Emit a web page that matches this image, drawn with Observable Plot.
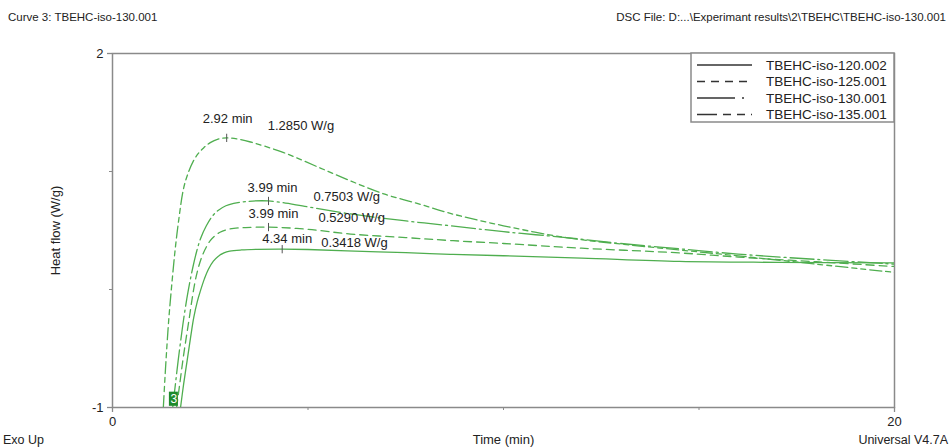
<!DOCTYPE html>
<html><head><meta charset="utf-8">
<script src="https://cdn.jsdelivr.net/npm/d3@7"></script>
<script src="https://cdn.jsdelivr.net/npm/@observablehq/plot@0.6"></script>
<style>
body{margin:0;background:#fff;}
svg{font-family:"Liberation Sans",Arial,sans-serif;}
</style>
</head><body><div id="chart"></div>
<script>
// ---- data ----
const seriesNames = ["TBEHC-iso-120.002","TBEHC-iso-125.001","TBEHC-iso-130.001","TBEHC-iso-135.001"];

const t120 = [1.74,1.82,1.91,2.0,2.08,2.17,2.25,2.35,2.45,2.58,2.7,2.85,3.0,3.3,3.7,4.34,5.0,6.0,7.5,8.64,10,12,14.5,17,20];
const v120 = [-1.0,-0.8,-0.6,-0.4,-0.235,-0.1,-0.01,0.09,0.17,0.24,0.28,0.31,0.325,0.335,0.34,0.3418,0.339,0.328,0.312,0.298,0.286,0.266,0.238,0.23,0.226];

const t125 = [1.64,1.72,1.80,1.88,1.96,2.05,2.12,2.2,2.3,2.4,2.5,2.6,2.75,2.9,3.1,3.4,3.99,5.0,6.09,7.5,8.64,10,12,14.5,16,18,20];
const v125 = [-1.0,-0.8,-0.6,-0.42,-0.25,-0.05,0.08,0.19,0.29,0.36,0.415,0.45,0.485,0.505,0.518,0.525,0.529,0.51,0.47,0.44,0.415,0.39,0.35,0.31,0.275,0.235,0.195];

const t130 = [1.54,1.61,1.68,1.75,1.82,1.9,1.97,2.05,2.15,2.25,2.4,2.55,2.7,2.9,3.1,3.4,3.99,5.0,6.09,7.4,8.64,10,11.6,13,14.5,16,18,20];
const v130 = [-1.0,-0.8,-0.6,-0.42,-0.25,-0.08,0.05,0.18,0.32,0.43,0.54,0.62,0.67,0.71,0.73,0.745,0.7503,0.70,0.64,0.585,0.54,0.49,0.44,0.39,0.345,0.3,0.255,0.215];

const t135 = [1.30,1.34,1.38,1.44,1.51,1.6,1.69,1.82,1.95,2.07,2.2,2.33,2.5,2.7,2.92,3.2,3.53,4.38,5.24,6.09,6.94,7.79,8.64,10,11.6,13,14.5,16,18,20];
const v135 = [-1.0,-0.76,-0.54,-0.25,0.02,0.33,0.58,0.86,1.0,1.09,1.155,1.2,1.245,1.275,1.285,1.275,1.25,1.16,1.04,0.92,0.81,0.73,0.645,0.54,0.44,0.385,0.335,0.285,0.215,0.145];

const peakTimes = [4.34, 3.99, 3.99, 2.92];
const peakValues = [0.3418, 0.5290, 0.7503, 1.2850];
const peakTimeLabels = ["4.34 min","3.99 min","3.99 min","2.92 min"];
const peakValueLabels = ["0.3418 W/g","0.5290 W/g","0.7503 W/g","1.2850 W/g"];

const yLabeledTicks = [2, -1];
const yMinorTicks = [1, 0];
const xLabeledTicks = [0, 20];
const xMinorTicks = [5, 10, 15];

const curveMarkerLabel = "3";
const curveMarkerTime = 1.57;
const curveMarkerValue = -0.93;

const headerLeft = "Curve 3: TBEHC-iso-130.001";
const headerRight = "DSC File: D:...\\Experimant results\\2\\TBEHC\\TBEHC-iso-130.001";
const footerLeft = "Exo Up";
const footerRight = "Universal V4.7A";
const xLabel = "Time (min)";
const yLabel = "Heat flow (W/g)";

// ---- styles (kept apart from data) ----
const seriesT = [t120, t125, t130, t135];
const seriesV = [v120, v125, v130, v135];
const dashes = ["none", "8,5", "24,4,2,4", "12,4,5,4,5,4"];
const legendDashes = ["none", "8,6", "38,7,2,8", "20,6,8,6,8,6"];
const minOffsets = [[5,-10],[5,-13],[4,-13],[1,-19]];
const wgOffsets = [[39,-6],[50,-9],[45,-4],[41,-12]];
const green = "#4fae4f";
const axisGray = "#8a8a8a";
const textColor = "#222";

const rows = seriesNames.map((name, i) => seriesT[i].map((t, j) => ({series: name, t, v: seriesV[i][j]})));
const peaks = seriesNames.map((name, i) => ({series: name, t: peakTimes[i], v: peakValues[i], tl: peakTimeLabels[i], vl: peakValueLabels[i]}));

const W = 950, H = 447;
const fmt = d => String(d);
const marks = [
  Plot.frame({stroke: axisGray, strokeWidth: 1.5}),
  Plot.axisY({ticks: yLabeledTicks, tickFormat: fmt, tickSize: 5, tickPadding: 4, stroke: axisGray, strokeWidth: 1.3, fontSize: 13,
              label: yLabel, labelAnchor: "center", labelArrow: "none", labelOffset: 62}),
  Plot.axisY({ticks: yMinorTicks, tickSize: 3, tickFormat: () => "", stroke: axisGray, label: null}),
  Plot.axisX({ticks: xLabeledTicks, tickFormat: fmt, tickSize: 5, tickPadding: 4, stroke: axisGray, strokeWidth: 1.3, fontSize: 13,
              label: xLabel, labelAnchor: "center", labelArrow: "none", labelOffset: 36}),
  Plot.axisX({ticks: xMinorTicks, tickSize: 3, tickFormat: () => "", stroke: axisGray, label: null}),
];
rows.forEach((r, i) => {
  marks.push(Plot.line(r, {x: "t", y: "v", stroke: green, strokeWidth: 1.3, strokeDasharray: dashes[i], curve: "catmull-rom", clip: true}));
});
peaks.forEach((p, i) => {
  marks.push(Plot.link([p], {x1: "t", x2: "t", y1: d => d.v - 0.035, y2: d => d.v + 0.035, stroke: "#555", strokeWidth: 1}));
  marks.push(Plot.text([p], {x: "t", y: "v", text: "tl", dx: minOffsets[i][0], dy: minOffsets[i][1], fontSize: 13, fill: textColor}));
  marks.push(Plot.text([p], {x: "t", y: "v", text: "vl", dx: wgOffsets[i][0], dy: wgOffsets[i][1], textAnchor: "start", fontSize: 13, fill: textColor}));
});
marks.push(Plot.rect([{t: curveMarkerTime, v: curveMarkerValue}], {x1: d => d.t - 0.115, x2: d => d.t + 0.115, y1: d => d.v - 0.06, y2: d => d.v + 0.06, fill: "#1f8a2c"}));
marks.push(Plot.text([{t: curveMarkerTime, v: curveMarkerValue, s: curveMarkerLabel}], {x: "t", y: "v", text: "s", fill: "#fff", fontSize: 12}));

const svg = Plot.plot({
  width: W, height: H,
  marginLeft: 112, marginRight: 56, marginTop: 53, marginBottom: 40,
  x: {domain: [0, 20]},
  y: {domain: [-1, 2]},
  style: {fontFamily: "Liberation Sans, Arial, sans-serif", fontSize: "13px", color: textColor, background: "#fff"},
  marks
});
document.getElementById("chart").appendChild(svg);

// header / footer texts and legend box
const s = d3.select(svg);
const g = s.append("g").attr("fill", textColor).attr("font-size", 11.5).attr("text-anchor", "start");
g.append("text").attr("x", 8).attr("y", 21).attr("text-anchor", "start").text(headerLeft);
g.append("text").attr("x", 946).attr("y", 21).attr("text-anchor", "end").text(headerRight);
g.append("text").attr("x", 3).attr("y", 444).attr("font-size", 12.5).attr("text-anchor", "start").text(footerLeft);
g.append("text").attr("x", 948).attr("y", 444).attr("font-size", 12.5).attr("text-anchor", "end").text(footerRight);

const xs = svg.scale("x"), ys = svg.scale("y");
const lx0 = 691, lx1 = xs.apply(20), ly0 = ys.apply(2);
const lg = s.append("g");
lg.append("rect").attr("x", lx0).attr("y", ly0).attr("width", lx1 - lx0).attr("height", 69)
  .attr("fill", "#fff").attr("stroke", axisGray).attr("stroke-width", 1.5);
seriesNames.forEach((name, i) => {
  const y = ly0 + 12 + i * 16.5;
  lg.append("line").attr("x1", 697).attr("x2", 752).attr("y1", y).attr("y2", y)
    .attr("stroke", "#333").attr("stroke-width", 1.3).attr("stroke-dasharray", legendDashes[i]);
  lg.append("text").attr("x", 766).attr("y", y).attr("dy", "0.35em").attr("text-anchor", "start")
    .attr("font-size", 13.5).attr("fill", textColor).text(name);
});
</script>
</body></html>
